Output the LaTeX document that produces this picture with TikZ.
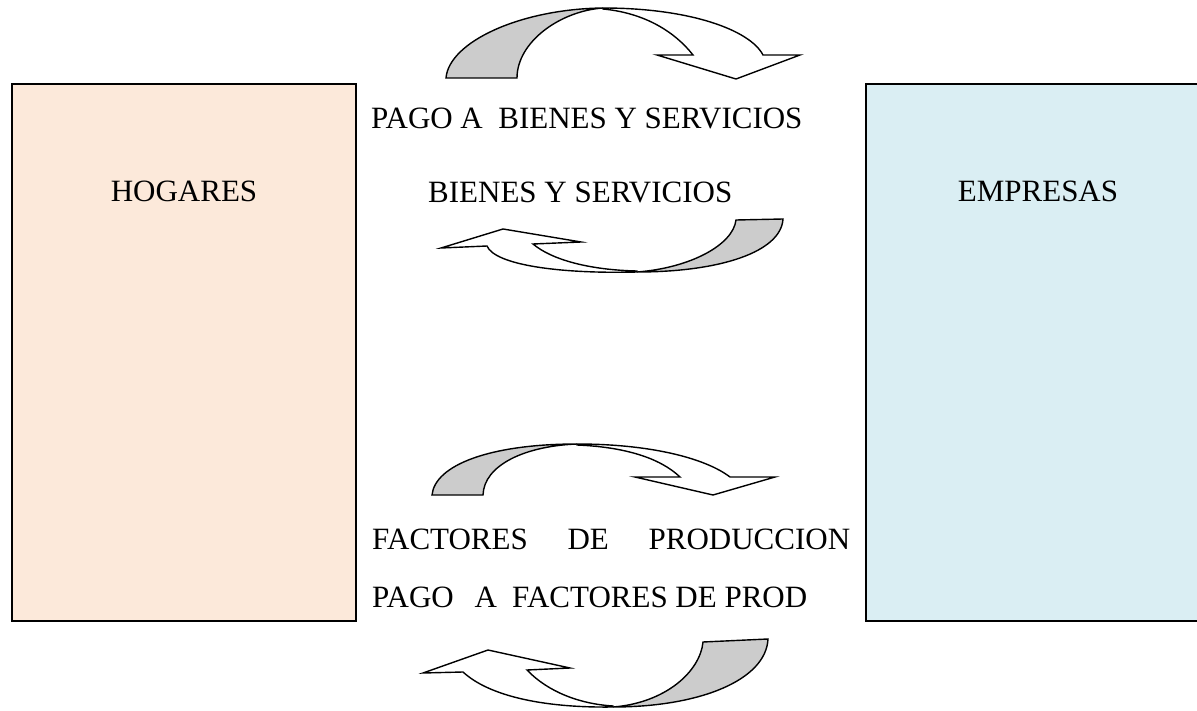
\documentclass[tikz,border=0pt]{standalone}
\usepackage{fontspec}
\setmainfont{Liberation Serif}
\definecolor{hogfill}{HTML}{FCE9DA}
\definecolor{empfill}{HTML}{DAEEF3}
\definecolor{backgrey}{HTML}{CCCCCC}
\tikzset{
  box/.style={draw=black, line width=2.2pt},
  lbl/.style={inner sep=0pt, font=\fontsize{31}{37}\selectfont},
  back/.style={draw=black, line width=1.4pt, fill=backgrey, line join=miter},
  front/.style={draw=black, line width=1.4pt, fill=white, line join=miter},
}
\begin{document}
\begin{tikzpicture}[x=1pt,y=-1pt]
\useasboundingbox (0,0) rectangle (1197,711);
% boxes
\draw[box, fill=hogfill] (12,84) rectangle (356,621);
\draw[box, fill=empfill] (866,84) rectangle (1200,621);
\node[lbl, anchor=base] (hog) at (184,202) {HOGARES};
\node[lbl, anchor=base] (emp) at (1038,202) {EMPRESAS};
% texts
\node[lbl, anchor=base west] (t1) at (371,129) {PAGO A\ \ BIENES Y SERVICIOS};
\node[lbl, anchor=base west] (t2) at (428,203) {BIENES Y SERVICIOS};
\node[lbl, anchor=base west] (t3) at (372,549) {\makebox[478pt][s]{FACTORES\hfill DE\hfill PRODUCCION}};
\node[lbl, anchor=base west] (t4) at (372,607) {PAGO\hspace{21pt}A\hspace{15pt}FACTORES DE PROD};
% arrow A (top, to the right)
\draw[back] (446,78) .. controls (449,42) and (520,9) .. (603,8)
  .. controls (560,11) and (517,42) .. (517,78) -- cycle;
\draw[front] (603,8) .. controls (690,8) and (750,30) .. (763,55)
  -- (800,55) -- (736,79) -- (657,55) -- (693,55)
  .. controls (675,32) and (645,13) .. (603,9) -- cycle;
% arrow B (to the left)
\draw[back] (783,219) .. controls (781,252) and (720,272) .. (637,272)
  .. controls (690,268) and (733,245) .. (736,220) -- cycle;
\draw[front] (637,272) .. controls (560,274) and (495,265) .. (487,246)
  -- (441,248) -- (503,229) -- (581,242) -- (533,244)
  .. controls (552,260) and (590,270) .. (637,271) -- cycle;
% arrow C (to the right)
\draw[back] (432,495) .. controls (435,465) and (490,444) .. (577,444)
  .. controls (525,446) and (484,465) .. (483,495) -- cycle;
\draw[front] (577,444) .. controls (650,444) and (705,458) .. (730,477)
  -- (775,477) -- (713,495) -- (635,477) -- (680,477)
  .. controls (660,458) and (625,447) .. (577,445) -- cycle;
% arrow D (to the left)
\draw[back] (768,639) .. controls (766,680) and (700,707) .. (613,707)
  .. controls (665,703) and (700,672) .. (703,642) -- cycle;
\draw[front] (613,707) .. controls (540,708) and (488,695) .. (463,672)
  -- (423,673) -- (488,650) -- (570,668) -- (527,670)
  .. controls (548,692) and (580,704) .. (613,706) -- cycle;
\end{tikzpicture}
\end{document}
